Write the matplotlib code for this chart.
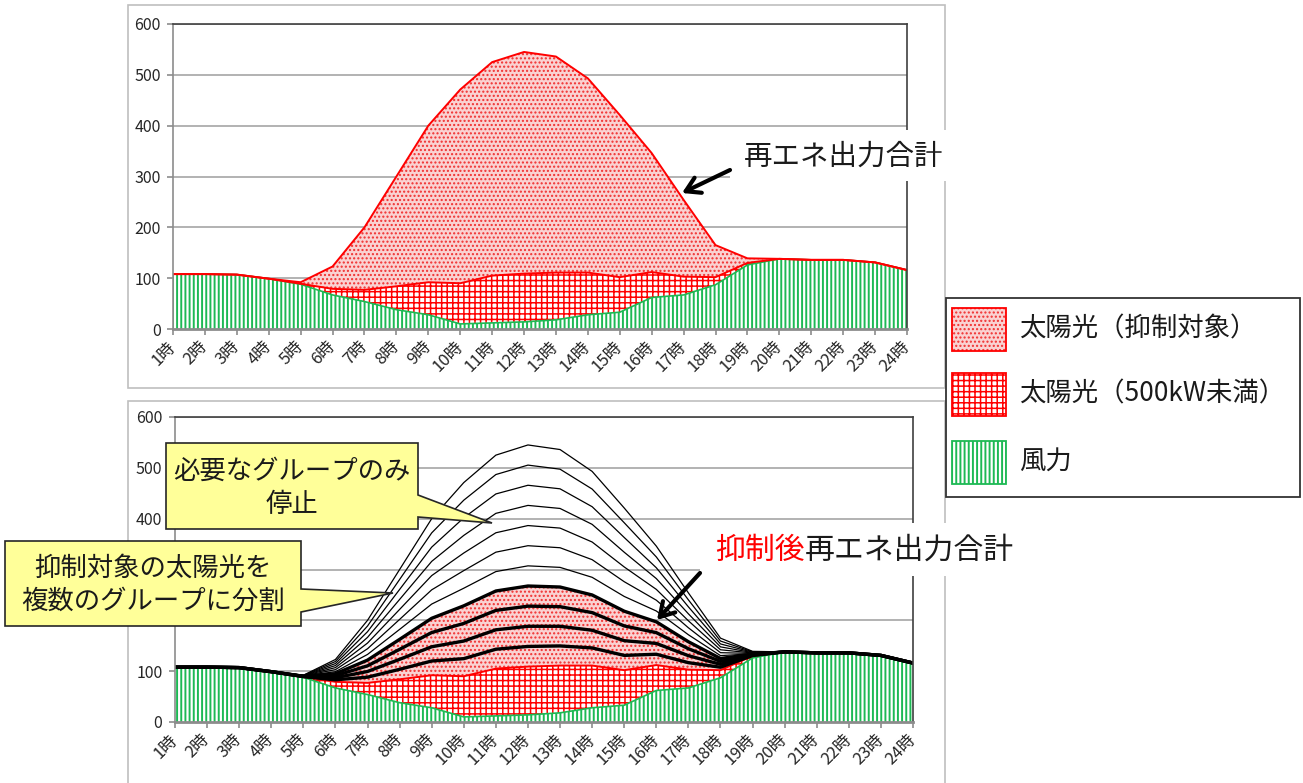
import numpy as np
import matplotlib
matplotlib.use("Agg")
import matplotlib.pyplot as plt
from matplotlib.patches import Rectangle, Polygon, FancyArrowPatch

plt.rcParams['font.family'] = ['Noto Sans CJK JP', 'DejaVu Sans']
plt.rcParams['hatch.linewidth'] = 1.1

# 時刻別の出力（万kW）
hours = list(range(1, 25))
wind = [108, 108, 107, 99, 88, 67, 54, 38, 28, 10, 12, 14, 18, 28, 33, 62, 67, 87, 126, 138, 136, 136, 131, 116]
solar_small = [0, 0, 0, 0, 1, 12, 23, 46, 64, 80, 93, 95, 93, 83, 69, 50, 36, 15, 4, 0, 0, 0, 0, 0]
solar_curtail = [0, 0, 0, 0, 3, 44, 123, 216, 308, 381, 420, 436, 425, 382, 319, 234, 151, 63, 9, 0, 0, 0, 0, 0]
yticks = [0, 100, 200, 300, 400, 500, 600]
n_groups = 11   # 抑制対象を分けるグループ数
n_kept = 4      # 抑制後も運転するグループ数

GREEN = '#1DB954'
RED = '#FF0000'
PINK = '#FAD2D2'

# 塗りの模様と線幅
STYLE_WIND = dict(face='white', edge=GREEN, hatch='||||', hlw=1.4)
STYLE_SMALL = dict(face='white', edge=RED, hatch='+++', hlw=1.1)
STYLE_CURTAIL = dict(face=PINK, edge='#F03030', hatch='....', hlw=1.0)

W, H = 1303, 783
fig = plt.figure(figsize=(W / 100, H / 100), dpi=100)


def fx(x):
    return x / W


def fy(y):
    return 1 - y / H


def pts(xy):
    return [(fx(a), fy(b)) for a, b in xy]


def set_hlw(p, lw):
    if hasattr(p, 'set_hatch_linewidth'):
        p.set_hatch_linewidth(lw)


def make_axes(l, t, r, b):
    ax = fig.add_axes([fx(l), fy(b), (r - l) / W, (b - t) / H])
    ax.set_xlim(0, 23)
    ax.set_ylim(0, 600)
    ax.set_yticks(yticks)
    ax.set_xticks(x)
    ax.set_xticklabels([f'{h}時' for h in hours])
    ax.yaxis.grid(True, color='#A6A6A6', lw=1.2)
    ax.set_axisbelow(True)
    for s in ('top', 'right'):
        ax.spines[s].set_color('#404040')
        ax.spines[s].set_linewidth(1.2)
    ax.spines['left'].set_color('#8C8C8C')
    ax.spines['left'].set_linewidth(1.2)
    ax.spines['bottom'].set_color('#8C8C8C')
    ax.spines['bottom'].set_linewidth(2)
    ax.tick_params(axis='x', length=4, width=1.2, color='#8C8C8C', pad=7,
                   labelsize=12, labelcolor='#262626')
    ax.tick_params(axis='y', length=4, width=1.2, color='#8C8C8C', pad=5,
                   labelsize=11.5, labelcolor='#262626')
    plt.setp(ax.get_xticklabels(), rotation=45, ha='right', va='center',
             rotation_mode='anchor')
    return ax


def band(ax, lo, hi, style):
    p = ax.fill(np.r_[x, x[::-1]], np.r_[hi, lo[::-1]],
                facecolor=style['face'], edgecolor=style['edge'],
                hatch=style['hatch'], lw=0)[0]
    set_hlw(p, style['hlw'])


x = np.arange(len(hours))
w = np.array(wind, float)
s_top = w + np.array(solar_small, float)
cur = np.array(solar_curtail, float)
total = s_top + cur
zero = np.zeros_like(w)

# 上段：抑制前
ax1 = make_axes(173, 24, 907, 329)
band(ax1, zero, w, STYLE_WIND)
band(ax1, w, s_top, STYLE_SMALL)
band(ax1, s_top, total, STYLE_CURTAIL)
ax1.plot(x, w, color=GREEN, lw=1.2)
ax1.plot(x, s_top, color=RED, lw=1.4)
ax1.plot(x, total, color=RED, lw=1.4)

# 下段：グループ単位の抑制
ax2 = make_axes(175, 417, 913, 722)
kept = s_top + cur * n_kept / n_groups
band(ax2, zero, w, STYLE_WIND)
band(ax2, w, s_top, STYLE_SMALL)
band(ax2, s_top, kept, STYLE_CURTAIL)
ax2.plot(x, w, color=GREEN, lw=1.2)
ax2.plot(x, s_top, color=RED, lw=1.4)
for k in range(n_groups, 0, -1):
    ax2.plot(x, s_top + cur * k / n_groups, color='black',
             lw=2.4 if k <= n_kept else 0.9)
# 200・300の目盛ラベルは吹き出しの下に隠れる
ax2.set_yticklabels(['' if v in (200, 300) else str(v) for v in yticks])

# グラフ外枠と凡例枠
fig.add_artist(Rectangle((fx(128), fy(388)), (945 - 128) / W, (388 - 5) / H,
                         transform=fig.transFigure, fill=False,
                         edgecolor='#BFBFBF', lw=1.2, zorder=1))
fig.add_artist(Rectangle((fx(128), fy(820)), (945 - 128) / W, (820 - 401) / H,
                         transform=fig.transFigure, fill=False,
                         edgecolor='#BFBFBF', lw=1.2, zorder=1))
fig.add_artist(Rectangle((fx(946), fy(497)), (1300 - 946) / W, (497 - 298) / H,
                         transform=fig.transFigure, facecolor='white',
                         edgecolor='#333333', lw=1.3, zorder=2))

legend_items = [
    ('太陽光（抑制対象）', STYLE_CURTAIL, RED, 308),
    ('太陽光（500kW未満）', STYLE_SMALL, RED, 373),
    ('風力', STYLE_WIND, GREEN, 441),
]
for label, style, border, top in legend_items:
    p = Rectangle((fx(952), fy(top + 43)), 54 / W, 43 / H,
                  transform=fig.transFigure, facecolor=style['face'],
                  edgecolor=style['edge'], hatch=style['hatch'], lw=0,
                  zorder=3)
    set_hlw(p, style['hlw'])
    fig.add_artist(p)
    fig.add_artist(Rectangle((fx(952), fy(top + 43)), 54 / W, 43 / H,
                             transform=fig.transFigure, fill=False,
                             edgecolor=border, lw=1.3, zorder=3))
    fig.text(fx(1019), fy(top + 21), label, fontsize=19, va='center',
             color='#1a1a1a', zorder=3)

# 注記
fig.add_artist(Rectangle((fx(730), fy(181)), 222 / W, 51 / H,
                         transform=fig.transFigure, facecolor='white',
                         edgecolor='none', zorder=4))
fig.text(fx(744), fy(157), '再エネ出力合計', fontsize=20.5, va='center',
         color='#1a1a1a', zorder=6)
fig.add_artist(FancyArrowPatch((fx(730), fy(170)), (fx(682), fy(193)),
                               transform=fig.transFigure,
                               arrowstyle='->,head_length=0.5,head_width=0.3',
                               mutation_scale=20, lw=3, color='black',
                               shrinkA=0, shrinkB=0, zorder=6))

fig.add_artist(Rectangle((fx(700), fy(576)), 252 / W, 53 / H,
                         transform=fig.transFigure, facecolor='white',
                         edgecolor='none', zorder=4))
fig.text(fx(715), fy(550), '抑制後', fontsize=21.5, va='center',
         color=RED, zorder=6)
fig.text(fx(805), fy(550), '再エネ出力合計', fontsize=21.5, va='center',
         color='#1a1a1a', zorder=6)
fig.add_artist(FancyArrowPatch((fx(700), fy(573)), (fx(657), fy(620)),
                               transform=fig.transFigure,
                               arrowstyle='->,head_length=0.5,head_width=0.3',
                               mutation_scale=20, lw=3, color='black',
                               shrinkA=0, shrinkB=0, zorder=6))

# 吹き出し
callouts = [
    ([(166, 443), (418, 443), (418, 495), (492, 523), (418, 517), (418, 529), (166, 529)],
     '必要なグループのみ\n停止', (292, 488)),
    ([(5, 541), (301, 541), (301, 589), (393, 593), (301, 612), (301, 626), (5, 626)],
     '抑制対象の太陽光を\n複数のグループに分割', (153, 585)),
]
for shape, label, (cx, cy) in callouts:
    fig.add_artist(Polygon(pts(shape), closed=True, transform=fig.transFigure,
                           facecolor='#FFFF99', edgecolor='#262626', lw=1.2,
                           zorder=5))
    fig.text(fx(cx), fy(cy), label, fontsize=19, ha='center', va='center',
             multialignment='center', linespacing=1.3, color='#1a1a1a',
             zorder=6)

fig.savefig('out.png', dpi=100)
